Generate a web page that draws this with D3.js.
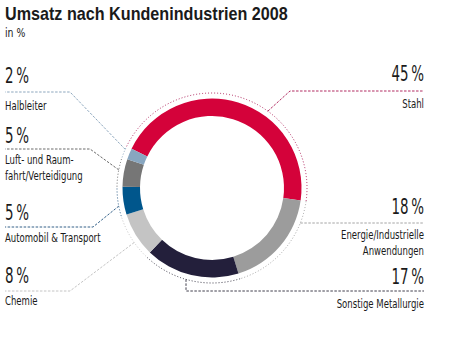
<!DOCTYPE html>
<html>
<head>
<meta charset="utf-8">
<script src="https://cdn.jsdelivr.net/npm/d3@7"></script>
<style>
  body { margin: 0; background: #fff; }
  svg { display: block; }
  .cond { font-family: "Liberation Sans Narrow", "DejaVu Sans Condensed", sans-serif; fill: #1a1a1a; }
</style>
</head>
<body>
<div id="chart"></div>
<script>
// Daten
var categories = ["Stahl", "Energie/Industrielle Anwendungen", "Sonstige Metallurgie", "Chemie",
                  "Automobil & Transport", "Luft- und Raumfahrt/Verteidigung", "Halbleiter"];
var shares = [45, 18, 17, 8, 5, 5, 2];
// Zeilenumbruch der Beschriftungen wie im Original
var labelLines = [["Stahl"], ["Energie/Industrielle", "Anwendungen"], ["Sonstige Metallurgie"], ["Chemie"],
                  ["Automobil & Transport"], ["Luft- und Raum-", "fahrt/Verteidigung"], ["Halbleiter"]];

// Farben
var colors    = ["#d4023a", "#9c9c9c", "#231f3b", "#c4c4c4", "#00568c", "#767676", "#88a6c0"];
var lineCols  = ["#a8124f", "#9a9a9a", "#2a2838", "#bdbdbd", "#1d4f7c", "#5a5a5a", "#7f9cb6"];

// Layout
var W = 453, H = 352;
var cx = 212, cy = 188;
var rOuter = 89.5, rInner = 72, rDot = 95;
var sxLab = 0.73, sxPct = 0.71; // schmale Schrift
var leftX = 5, rightX = 424;
var lineH = 15.5;

// pro Segment: Seite, Grundlinien, Leitlinie
var layout = [
  {side: "r", pctY: 81,  lineY: 91,  labY: 108, ang: 36,  elbowX: 290},
  {side: "r", pctY: 214, lineY: 223, labY: 239, ang: null},
  {side: "r", pctY: 284, lineY: 291, labY: 308, vx: 186},
  {side: "l", pctY: 283, lineY: 291, labY: 305, ang: 235, elbowX: 70},
  {side: "l", pctY: 220, lineY: 227, labY: 242, ang: 259, elbowX: 93},
  {side: "l", pctY: 143, lineY: 149, labY: 164, ang: 281, elbowX: 90},
  {side: "l", pctY: 83,  lineY: 92,  labY: 110, ang: 294, elbowX: 70}
];

var svg = d3.select("#chart").append("svg")
    .attr("width", W).attr("height", H);

// Titel
var title = svg.append("text")
    .attr("x", 0).attr("y", 0)
    .style("font-family", "'Liberation Sans', sans-serif")
    .style("font-weight", "bold")
    .style("font-size", "17.5px")
    .style("fill", "#1a1a1a")
    .text("Umsatz nach Kundenindustrien 2008");
var tw = title.node().getComputedTextLength();
title.attr("transform", "translate(5,19.5) scale(" + (283 / tw) + ",1)");

svg.append("text")
    .attr("class", "cond")
    .attr("transform", "translate(5,37) scale(0.8,1)")
    .style("font-size", "13px")
    .text("in %");

var deg = Math.PI / 180;
var pie = d3.pie().sort(null).value(function(d) { return d; })
    .startAngle(-64 * deg).endAngle(296 * deg);
var arcs = pie(shares);

var arc = d3.arc().innerRadius(rInner).outerRadius(rOuter);

var g = svg.append("g").attr("transform", "translate(" + cx + "," + cy + ")");

g.selectAll("path.seg")
  .data(arcs)
  .enter().append("path")
    .attr("class", "seg")
    .attr("d", arc)
    .style("fill", function(d, i) { return colors[i]; });

// gepunktete Bögen außen
g.selectAll("path.dot")
  .data(arcs)
  .enter().append("path")
    .attr("class", "dot")
    .attr("d", function(d) {
      var p = d3.path();
      p.arc(0, 0, rDot, d.startAngle - Math.PI / 2, d.endAngle - Math.PI / 2);
      return p.toString();
    })
    .style("fill", "none")
    .style("stroke", function(d, i) { return lineCols[i]; })
    .style("stroke-width", 0.9)
    .style("stroke-dasharray", "1,2");

function onArc(a) {
  return [cx + rDot * Math.sin(a * deg), cy - rDot * Math.cos(a * deg)];
}

// Leitlinien
layout.forEach(function(l, i) {
  var pts;
  if (l.vx != null) {
    var a = 180 + Math.asin((cx - l.vx) / rDot) / deg;
    pts = [onArc(a), [l.vx, l.lineY], [rightX, l.lineY]];
  } else if (l.ang == null) {
    var a2 = Math.acos(-(l.lineY - cy) / rDot) / deg;
    pts = [onArc(a2), [rightX, l.lineY]];
  } else {
    var endX = l.side === "r" ? rightX : leftX;
    pts = [onArc(l.ang), [l.elbowX, l.lineY], [endX, l.lineY]];
  }
  svg.append("path")
    .attr("d", d3.line()(pts))
    .style("fill", "none")
    .style("stroke", lineCols[i])
    .style("stroke-width", 0.9)
    .style("stroke-dasharray", "2.5,1.5");
});

// Beschriftungen
layout.forEach(function(l, i) {
  var x = l.side === "r" ? rightX : leftX;
  var anchor = l.side === "r" ? "end" : "start";
  svg.append("text")
    .attr("class", "cond")
    .attr("transform", "translate(" + x + "," + l.pctY + ") scale(" + sxPct + ",1)")
    .attr("text-anchor", anchor)
    .style("font-size", "21px")
    .text(shares[i] + "\u2009%");
  labelLines[i].forEach(function(t, k) {
    svg.append("text")
      .attr("class", "cond")
      .attr("transform", "translate(" + x + "," + (l.labY + k * lineH) + ") scale(" + sxLab + ",1)")
      .attr("text-anchor", anchor)
      .style("font-size", "13px")
      .text(t);
  });
});
</script>
</body>
</html>
